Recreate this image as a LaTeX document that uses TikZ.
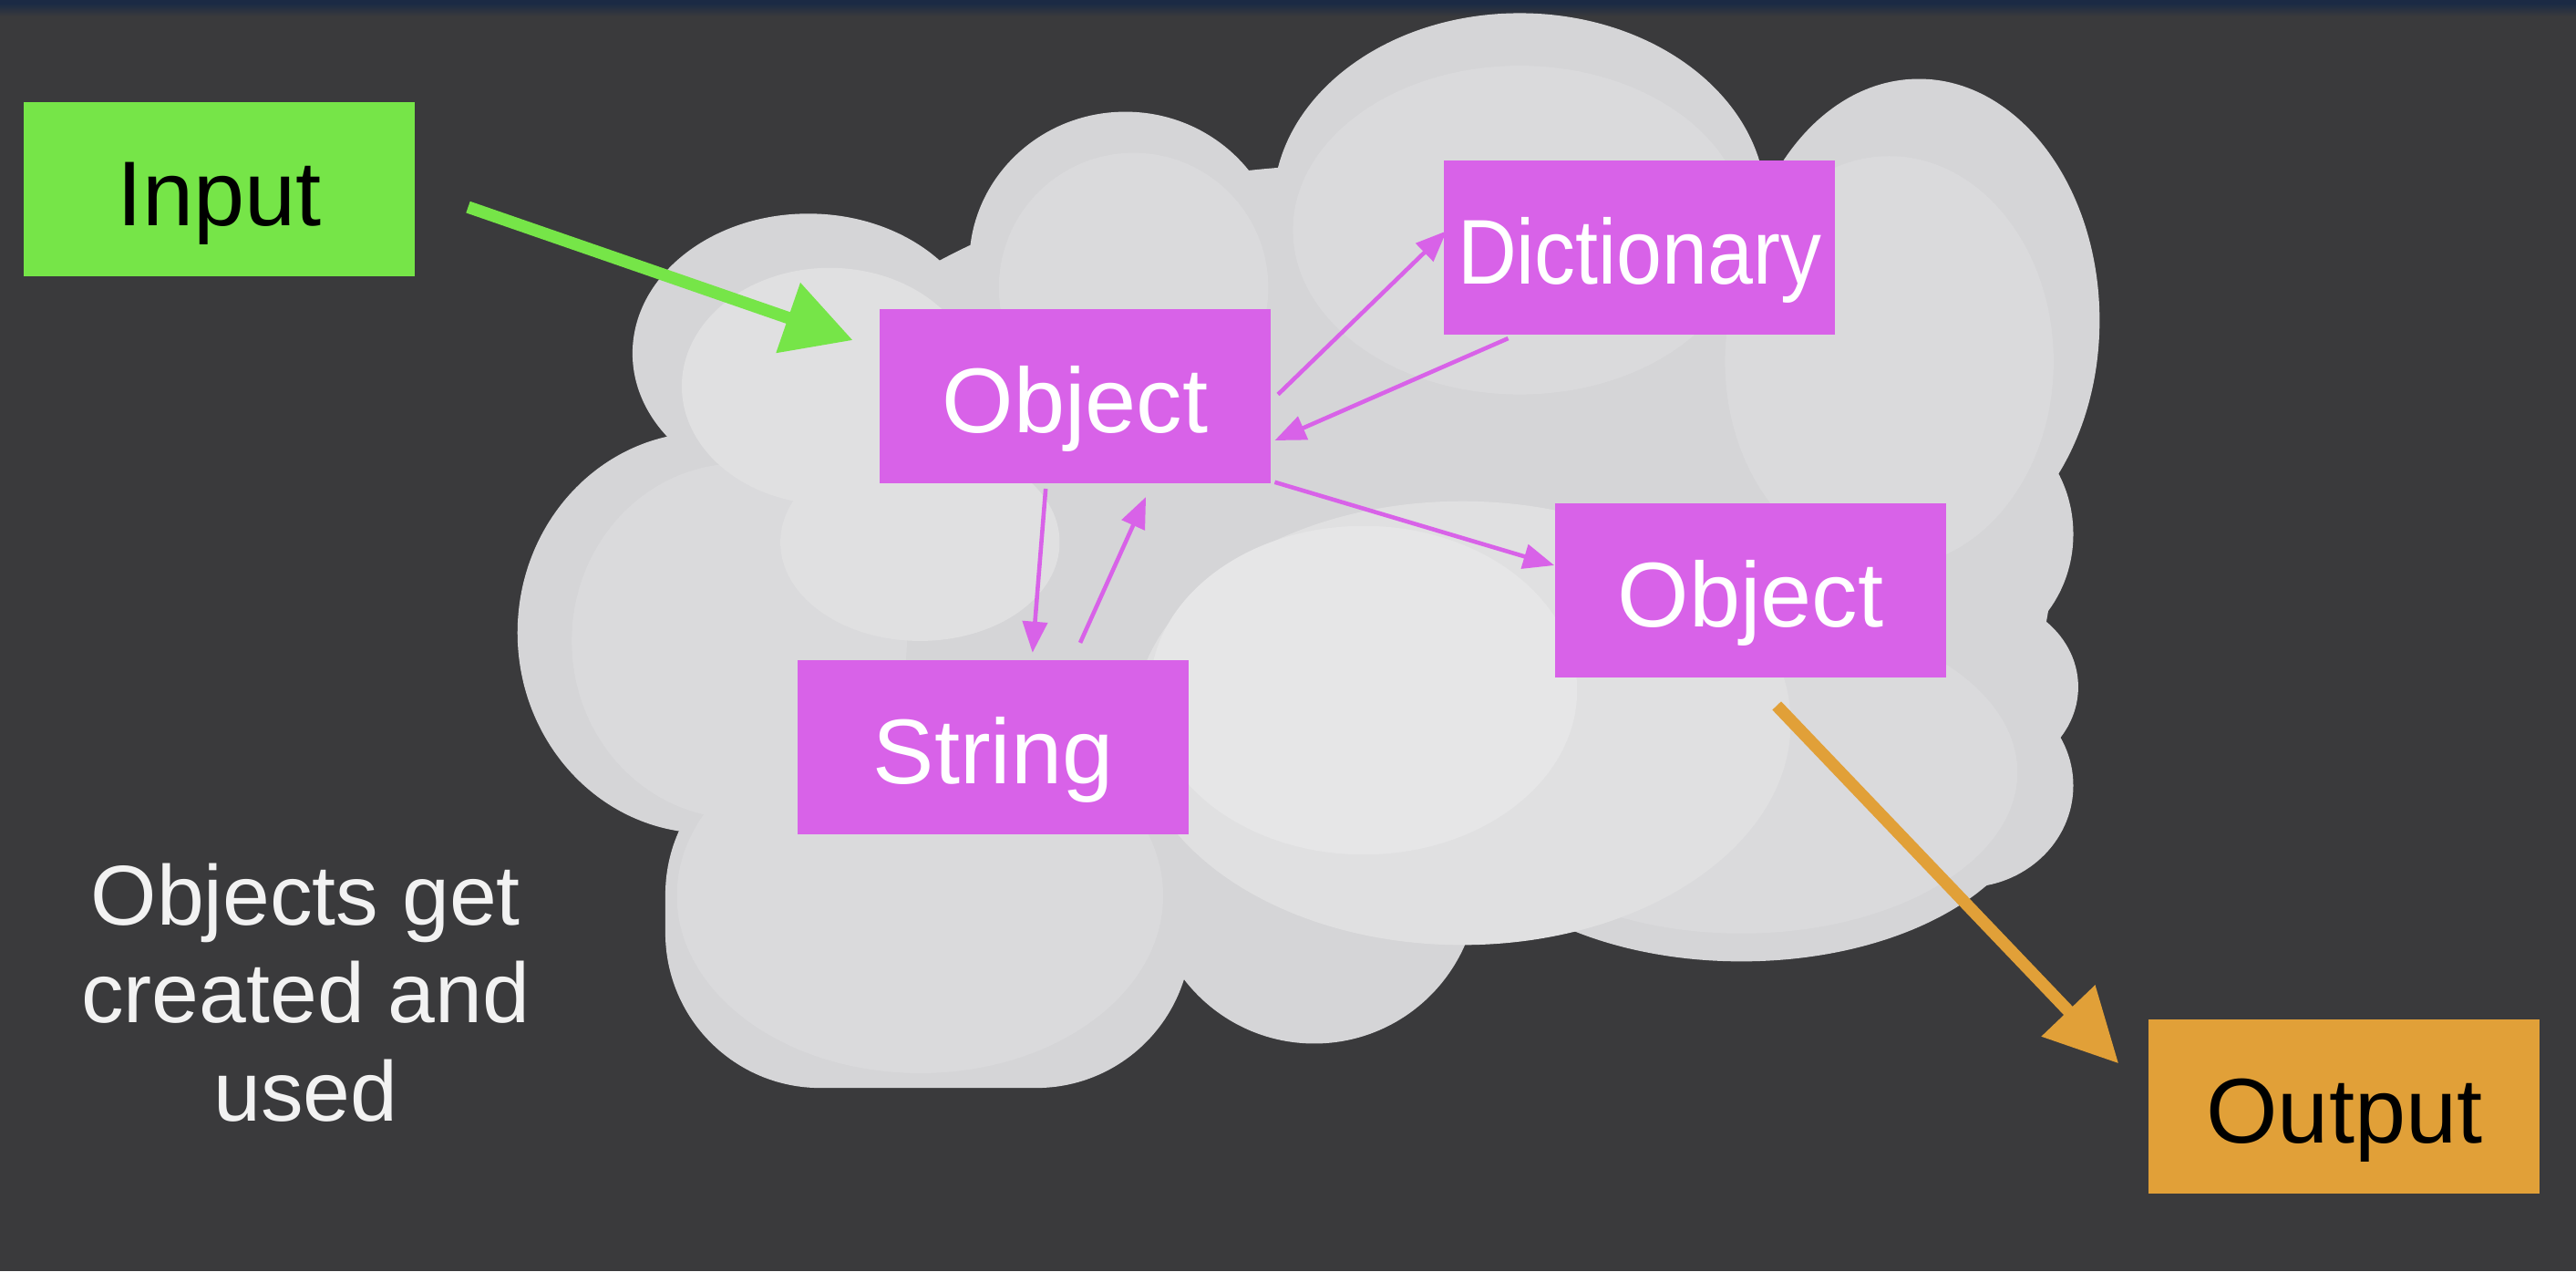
\documentclass[tikz,border=0pt]{standalone}
\usepackage{fontspec}
\usepackage{graphicx}
\setmainfont{Liberation Sans}
\usetikzlibrary{arrows.meta,calc}
\definecolor{bg}{HTML}{3A3A3C}
\definecolor{navy}{HTML}{1B2A44}
\definecolor{inputgreen}{HTML}{76E548}
\definecolor{objmag}{HTML}{D862E8}
\definecolor{outorange}{HTML}{E1A038}
\definecolor{cloudbase}{HTML}{D5D5D7}
\definecolor{cloudmid}{HTML}{DADADC}
\definecolor{cloudlight}{HTML}{E0E0E1}
\definecolor{cloudbright}{HTML}{E6E6E7}
\definecolor{notewhite}{HTML}{F2F2F2}
\begin{document}
\begin{tikzpicture}[x=0.018023cm,y=-0.018023cm,
  box/.style={rectangle, inner sep=0pt, minimum width=4.29cm, minimum height=1.91cm,
    text height=0.8cm, text depth=0cm,
    font=\fontsize{28.7}{34}\selectfont},
  objbox/.style={box, fill=objmag, text=white},
  inbox/.style={box, fill=inputgreen, text=black},
  outbox/.style={box, fill=outorange, text=black},
  thinarrow/.style={draw=objmag, line width=1.3pt, -{Triangle[length=0.34cm,width=0.27cm]}},
  greenarrow/.style={draw=inputgreen, line width=3.8pt, -{Triangle[length=0.75cm,width=0.78cm]}},
  orangearrow/.style={draw=outorange, line width=3.8pt, -{Triangle[length=0.8cm,width=0.78cm]}},
  notetext/.style={font=\fontsize{26.5}{30.6}\selectfont, text=notewhite, align=center}
]
\useasboundingbox (0,0) rectangle (1568,773.45);
% background
\fill[bg] (0,0) rectangle (1568,773.45);
\shade[top color=navy, bottom color=bg] (0,2) rectangle (1568,10);
\fill[navy] (0,0) rectangle (1568,3);

% cloud base
\begin{scope}
\fill[cloudbase] (685,160) ellipse [x radius=95, y radius=92];
\fill[cloudbase] (925,125) ellipse [x radius=150, y radius=117];
\fill[cloudbase] (1168,195) ellipse [x radius=110, y radius=147];
\fill[cloudbase] (1192,325) ellipse [x radius=70, y radius=75];
\fill[cloudbase] (1202,418) ellipse [x radius=63, y radius=55];
\fill[cloudbase] (1196,478) ellipse [x radius=66, y radius=62];
\fill[cloudbase] (1060,480) ellipse [x radius=180, y radius=105];
\fill[cloudbase] (800,535) ellipse [x radius=100, y radius=100];
\fill[cloudbase, rounded corners=1.7cm] (405,450) rectangle (725,662);
\fill[cloudbase] (430,385) ellipse [x radius=115, y radius=122];
\fill[cloudbase] (492,215) ellipse [x radius=107, y radius=85];
\fill[cloudbase] (830,320) ellipse [x radius=380, y radius=220];
\fill[cloudbase] (1100,330) ellipse [x radius=150, y radius=200];
\end{scope}
% cloud inner shading (subtle)
\begin{scope}
\fill[cloudmid] (925,140) ellipse [x radius=138, y radius=100];
\fill[cloudmid] (690,175) ellipse [x radius=82, y radius=82];
\fill[cloudmid] (560,545) ellipse [x radius=148, y radius=108];
\fill[cloudmid] (450,390) ellipse [x radius=102, y radius=108];
\fill[cloudmid] (1060,470) ellipse [x radius=168, y radius=98];
\fill[cloudmid] (1150,220) ellipse [x radius=100, y radius=125];
\fill[cloudlight] (505,235) ellipse [x radius=90, y radius=72];
\fill[cloudlight] (560,330) ellipse [x radius=85, y radius=60];
\fill[cloudlight] (890,440) ellipse [x radius=200, y radius=135];
\fill[cloudbright] (830,420) ellipse [x radius=130, y radius=100];
\end{scope}

% nodes
\node[inbox]  (Input)  at (133.5,115)  {Input};
\node[objbox] (Obj1)   at (654.5,241)  {Object};
\node[objbox] (Dict)   at (998,150.5)  {\scalebox{0.89}[1]{Dictionary}};
\node[objbox] (Obj2)   at (1065.5,359) {Object};
\node[objbox] (String) at (604.5,454.5){String};
\node[outbox] (Output) at (1427,673.5) {Output};
\node[notetext] (note) at (186,604) {Objects get\\created and\\used};

% connectors
\draw[greenarrow] ($(Input.east)+(32,11)$) -- ($(Obj1.west)+(-16,-34)$);
\draw[thinarrow] ($(Obj1.east)+(4,-1)$) -- ($(Dict.west)+(2,-10)$);
\draw[thinarrow] ($(Dict.south)+(-80,2)$) -- ($(Obj1.east)+(2,27)$);
\draw[thinarrow] ($(Obj1.south east)+(2,-1)$) -- ($(Obj2.west)+(0,-15)$);
\draw[thinarrow] ($(Obj1.south)+(-18,3)$) -- ($(String.north)+(24,-4)$);
\draw[thinarrow] ($(String.north)+(53,-10)$) -- ($(Obj1.south)+(43,8)$);
\draw[orangearrow] ($(Obj2.south)+(16,17)$) -- ($(Output.north west)+(-18,27)$);
\end{tikzpicture}
\end{document}
